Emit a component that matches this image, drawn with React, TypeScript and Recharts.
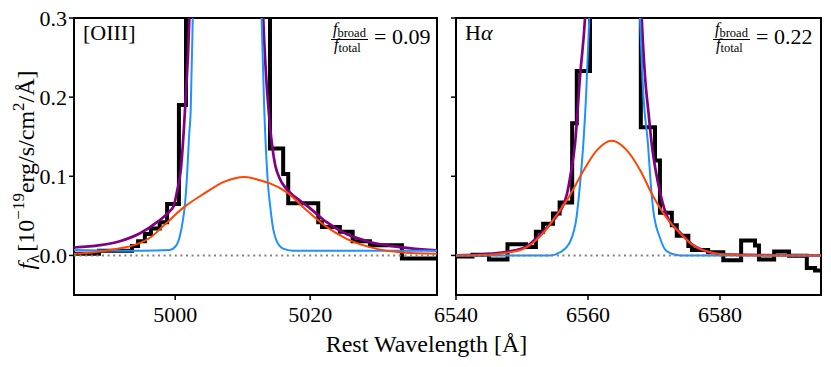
import React from 'react';
import { LineChart, Line, XAxis, YAxis, ReferenceLine, ReferenceArea } from 'recharts';

type P = [number, number];

const FONT = 'Liberation Serif, serif';

const yTicks = [0, 0.1, 0.2, 0.3];
const yDomain: [number, number] = [-0.05, 0.3];

// ---- [OIII] panel ----
const oiiiDomain: [number, number] = [4985, 5038.8];
const oiiiTicks = [5000, 5020];
const oiiiLabel = '[OIII]';
const oiiiRatio = '0.09';

const oiiiObserved: P[] = [
  [4985.0, 0.002], [4988.7, 0.006], [4993.6, 0.012], [4994.5, 0.018], [4995.5, 0.027],
  [4996.4, 0.034], [4997.7, 0.042], [4998.8, 0.065], [5000.55, 0.19], [5001.6, 1.2],
  [5014.05, 0.135], [5016.0, 0.103], [5016.75, 0.066], [5021.2, 0.042], [5021.75, 0.036],
  [5024.4, 0.03], [5026.3, 0.018], [5028.85, 0.013], [5033.6, -0.004], [5038.8, -0.004],
];

const oiiiTotal: P[] = [
  [4985, 0.01], [4988.85, 0.013], [4991.8, 0.018], [4994.8, 0.028], [4997.45, 0.043],
  [4999.2, 0.056], [4999.75, 0.062], [5000.25, 0.08], [5000.85, 0.11], [5001.45, 0.184],
  [5002.1, 0.3], [5004.5, 2.0], [5007.6, 11], [5010.7, 2.0], [5013.05, 0.3],
  [5013.45, 0.23], [5013.9, 0.178], [5014.35, 0.14], [5014.8, 0.115], [5015.5, 0.097],
  [5016.5, 0.084], [5017.9, 0.073], [5019.5, 0.063], [5022.45, 0.042], [5025.4, 0.027],
  [5028.85, 0.017], [5033.3, 0.0105], [5038.8, 0.0063],
];

const oiiiNarrow: P[] = [
  [4985, 0.007], [4995, 0.006], [4999.2, 0.007], [5000.1, 0.012], [5000.7, 0.025],
  [5001.15, 0.045], [5001.45, 0.065], [5001.75, 0.1], [5002.05, 0.15], [5002.3, 0.184],
  [5002.6, 0.3], [5004.5, 1.8], [5007.6, 10.8], [5010.7, 1.8], [5012.8, 0.3],
  [5013.2, 0.184], [5013.75, 0.09], [5014.15, 0.057], [5014.4, 0.04], [5015.0, 0.019],
  [5016.0, 0.0085], [5017.4, 0.006], [5038.8, 0.006],
];

const oiiiBroad: P[] = [
  [4985, 0.002], [4987.96, 0.004], [4991.41, 0.0085], [4993.89, 0.013], [4996.36, 0.023],
  [4998.33, 0.038], [5001.3, 0.061], [5004.26, 0.078], [5007.22, 0.093], [5010.33, 0.099],
  [5012.56, 0.095], [5014.04, 0.091], [5016.51, 0.08], [5019.47, 0.057], [5022.44, 0.036],
  [5025.4, 0.021], [5028.85, 0.0105], [5033.3, 0.004], [5038.8, 0.002],
];

// ---- H-alpha panel ----
const haDomain: [number, number] = [6540, 6595.3];
const haTicks = [6540, 6560, 6580];
const haRatio = '0.22';

const haObserved: P[] = [
  [6540.0, -0.0013], [6542.5, 0.001], [6545.0, -0.005], [6547.8, 0.014], [6550.6, 0.0105],
  [6552.1, 0.03], [6553.2, 0.04], [6554.7, 0.053], [6555.7, 0.067], [6557.6, 0.167],
  [6558.3, 0.233], [6560.3, 1.2], [6568.0, 0.162], [6570.15, 0.12], [6570.9, 0.054],
  [6572.7, 0.038], [6573.45, 0.025], [6575.2, 0.012], [6575.75, 0.007], [6578.2, 0.004],
  [6580.5, -0.006], [6583.2, 0.019], [6585.3, 0.0127], [6585.9, -0.005], [6588.2, 0.005],
  [6590.45, -0.0005], [6593.15, -0.016], [6594.4, -0.019], [6595.3, -0.019],
];

const haTotal: P[] = [
  [6540, 0.0], [6545.0, 0.002], [6550.15, 0.009], [6553.18, 0.03], [6554.55, 0.042],
  [6555.45, 0.052], [6556.06, 0.06], [6556.82, 0.078], [6557.42, 0.105], [6558.03, 0.141],
  [6558.79, 0.226], [6559.55, 0.3], [6562.0, 1.0], [6564.05, 1.6], [6566.1, 1.0],
  [6568.14, 0.3], [6568.64, 0.226], [6569.17, 0.18], [6569.65, 0.141], [6570.3, 0.105],
  [6570.91, 0.08], [6571.52, 0.06], [6572.17, 0.046], [6573.94, 0.029], [6575.91, 0.013],
  [6578.48, 0.004], [6581.06, 0.001], [6595.3, 0.0],
];

const haNarrow: P[] = [
  [6540, 0.0], [6554.24, 0.0], [6555.76, 0.004], [6557.27, 0.017], [6558.29, 0.05],
  [6558.79, 0.09], [6559.29, 0.141], [6559.7, 0.2], [6560.2, 0.3], [6562.0, 0.95],
  [6564.05, 1.47], [6566.06, 0.95], [6567.88, 0.3], [6568.41, 0.2], [6569.09, 0.14],
  [6569.47, 0.095], [6569.89, 0.057], [6570.91, 0.022], [6571.97, 0.005], [6573.94, 0.0],
  [6595.3, 0.0],
];

const haBroad: P[] = [
  [6540, 0.0], [6545.0, 0.001], [6548.18, 0.004], [6550.15, 0.008], [6551.97, 0.018],
  [6553.18, 0.028], [6555.15, 0.05], [6557.12, 0.074], [6559.24, 0.106], [6561.36, 0.133],
  [6563.59, 0.145], [6565.76, 0.134], [6567.88, 0.108], [6569.85, 0.075], [6571.21, 0.056],
  [6572.42, 0.042], [6573.94, 0.028], [6575.91, 0.013], [6578.48, 0.004], [6581.06, 0.001],
  [6586.06, 0.0], [6595.3, 0.0],
];

const xLabel = 'Rest Wavelength [Å]';

const toRows = (pts: P[]) => pts.map(([w, f]) => ({ w, f }));

type PanelProps = {
  left: number;
  width: number;
  yAxisWidth: number;
  rightMargin: number;
  domain: [number, number];
  ticks: number[];
  showYLabels: boolean;
  observed: P[];
  total: P[];
  narrow: P[];
  broad: P[];
};

function Panel(p: PanelProps) {
  const tickStyle = { fill: '#000', fontSize: 22, fontFamily: FONT };
  return (
    <div style={{ position: 'absolute', left: p.left, top: 0 }}>
      <LineChart width={p.width} height={367} margin={{ top: 18, right: p.rightMargin, bottom: 32, left: 0 }}>
        <XAxis
          type="number"
          dataKey="w"
          domain={p.domain}
          ticks={p.ticks}
          allowDataOverflow
          interval={0}
          axisLine={false}
          tickLine={{ stroke: '#000', strokeWidth: 1.5 }}
          tickSize={5}
          tickMargin={6}
          height={40}
          tick={tickStyle}
        />
        <YAxis
          type="number"
          domain={yDomain}
          ticks={yTicks}
          allowDataOverflow
          interval={0}
          width={p.yAxisWidth}
          axisLine={false}
          tickLine={{ stroke: '#000', strokeWidth: 1.5 }}
          tickSize={5}
          tickMargin={2}
          tick={tickStyle}
          tickFormatter={(v: number) => (p.showYLabels ? v.toFixed(1) : '')}
        />
        <Line data={toRows(p.observed)} dataKey="f" type="stepAfter" stroke="#000" strokeWidth={4}
          strokeLinejoin="miter" dot={false} activeDot={false} isAnimationActive={false} />
        <Line data={toRows(p.total)} dataKey="f" type="monotone" stroke="#800080" strokeWidth={2.7}
          dot={false} activeDot={false} isAnimationActive={false} />
        <Line data={toRows(p.narrow)} dataKey="f" type="monotone" stroke="#1e90ff" strokeWidth={2}
          dot={false} activeDot={false} isAnimationActive={false} />
        <Line data={toRows(p.broad)} dataKey="f" type="monotone" stroke="#ff4500" strokeWidth={2}
          dot={false} activeDot={false} isAnimationActive={false} />
        <ReferenceLine y={0} stroke="#808080" strokeWidth={2} strokeDasharray="2 3.6" />
        <ReferenceArea x1={p.domain[0]} x2={p.domain[1]} y1={yDomain[0]} y2={yDomain[1]}
          fill="none" fillOpacity={0} stroke="#000" strokeWidth={2} />
      </LineChart>
    </div>
  );
}

function Ratio({ x, value }: { x: number; value: string }) {
  return (
    <g fontFamily={FONT} fill="#000">
      <text x={x + 1} y={34} fontSize={16}>
        <tspan fontStyle="italic">f</tspan>
        <tspan fontSize={12.5} dy={2.5}>broad</tspan>
      </text>
      <line x1={x - 1} x2={x + 36} y1={39.5} y2={39.5} stroke="#000" strokeWidth={1} />
      <text x={x + 2} y={50} fontSize={16}>
        <tspan fontStyle="italic">f</tspan>
        <tspan fontSize={12.5} dy={2}>total</tspan>
      </text>
      <text x={x + 42} y={43.5} fontSize={22}>{'= ' + value}</text>
    </g>
  );
}

export default function App() {
  return (
    <div style={{ position: 'fixed', left: 0, top: 0, width: 831, height: 367, background: '#fff', fontFamily: FONT }}>
      <Panel left={0} width={440} yAxisWidth={74} rightMargin={3} domain={oiiiDomain} ticks={oiiiTicks}
        showYLabels observed={oiiiObserved} total={oiiiTotal} narrow={oiiiNarrow} broad={oiiiBroad} />
      <Panel left={420} width={411} yAxisWidth={36} rightMargin={10} domain={haDomain} ticks={haTicks}
        showYLabels={false} observed={haObserved} total={haTotal} narrow={haNarrow} broad={haBroad} />
      <svg width={831} height={367} style={{ position: 'absolute', left: 0, top: 0, pointerEvents: 'none' }}>
        <text x={426.5} y={352} textAnchor="middle" fontSize={24} fontFamily={FONT} fill="#000">{xLabel}</text>
        <text transform="translate(34,170) rotate(-90)" textAnchor="middle" fontSize={24} fontFamily={FONT} fill="#000">
          <tspan fontStyle="italic">f</tspan><tspan fontSize={17} dy={5}>λ</tspan><tspan dy={-5} dx={3}>[10</tspan><tspan fontSize={17} dy={-10}>−19</tspan><tspan dy={10}>erg/s/cm</tspan><tspan fontSize={17} dy={-10}>2</tspan><tspan dy={10}>/Å]</tspan>
        </text>
        <text x={83} y={39.5} fontSize={22} fontFamily={FONT} fill="#000">{oiiiLabel}</text>
        <text x={465} y={40} fontSize={22} fontFamily={FONT} fill="#000">H<tspan fontStyle="italic">α</tspan></text>
        <Ratio x={332} value={oiiiRatio} />
        <Ratio x={714} value={haRatio} />
      </svg>
    </div>
  );
}
